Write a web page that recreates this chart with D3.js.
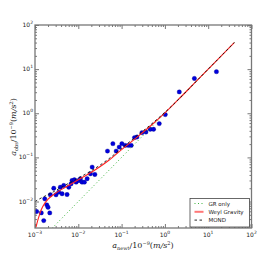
<!DOCTYPE html>
<html>
<head>
<meta charset="utf-8">
<script src="https://cdn.jsdelivr.net/npm/d3@7"></script>
<style>
body { margin: 0; background: #fff; }
svg { display: block; }
text { font-family: "DejaVu Sans", sans-serif; fill: #222; }
.lab { font-family: "DejaVu Serif", serif; }
</style>
</head>
<body>
<script>
// observed points (a_newt, a_obs) in 1e-9 m/s^2
const obsX = [0.00109, 0.00140, 0.00159, 0.00168, 0.00187, 0.00200, 0.00219, 0.00226, 0.00271, 0.00306,
  0.00354, 0.00385, 0.00422, 0.00461, 0.00550, 0.00602, 0.00681, 0.00718, 0.00812, 0.00889,
  0.0103, 0.0112, 0.0122, 0.0138, 0.0160, 0.0191, 0.0209, 0.0241, 0.0472, 0.0629,
  0.0750, 0.0880, 0.1016, 0.121, 0.144, 0.167, 0.199, 0.226, 0.295, 0.365,
  0.459, 0.547, 0.741, 1.02, 2.15, 4.80, 15.5];
const obsY = [0.00593, 0.00553, 0.00370, 0.0115, 0.0084, 0.0074, 0.00553, 0.0142, 0.0200, 0.0142,
  0.0163, 0.0211, 0.0150, 0.0231, 0.0144, 0.0211, 0.0252, 0.0300, 0.0311, 0.0275,
  0.0300, 0.0328, 0.0275, 0.0275, 0.0328, 0.0427, 0.0603, 0.0411, 0.139, 0.205,
  0.139, 0.171, 0.205, 0.187, 0.187, 0.187, 0.281, 0.289, 0.364, 0.376,
  0.433, 0.433, 0.583, 0.933, 3.05, 6.15, 8.77];

// model curves
const grX = [0.001, 40];
const grY = [0.001, 40];
const weylX = [0.00105, 0.0012, 0.0014, 0.0017, 0.002, 0.003, 0.005, 0.01, 0.02, 0.05, 0.1, 0.2, 0.5, 1, 2, 5, 10, 40];
const weylY = [0.0026, 0.0042, 0.0066, 0.0093, 0.0113, 0.0155, 0.021, 0.031, 0.046, 0.085, 0.15, 0.26, 0.55, 1.02, 2.0, 5.0, 10, 40];
const mondX = [0.001, 0.0015, 0.002, 0.005, 0.01, 0.02, 0.05, 0.1, 0.2, 0.5, 1, 10, 40];
const mondY = [0.0100, 0.0125, 0.0143, 0.0235, 0.034, 0.050, 0.092, 0.16, 0.28, 0.58, 1.05, 10, 40];

const xExps = [-3, -2, -1, 0, 1, 2];
const yExps = [-2, -1, 0, 1, 2];
const legendNames = ["GR only", "Weyl Gravity", "MOND"];

const W = 280, H = 255;
const L = 35, R = 251.5, T = 25, B = 228;

const svg = d3.select("body").append("svg").attr("width", W).attr("height", H);

const x = d3.scaleLog().domain([1e-3, 1e2]).range([L, R]);
const y = d3.scaleLog().domain([Math.pow(10, -2.6), 1e2]).range([B, T]);

svg.append("clipPath").attr("id", "clip")
  .append("rect").attr("x", L).attr("y", T).attr("width", R - L).attr("height", B - T);

// minor tick values
function minors(lo, hi) {
  const out = [];
  for (let e = lo; e < hi; e++) for (let k = 2; k <= 9; k++) out.push(k * Math.pow(10, e));
  return out;
}
const xMinor = minors(-3, 2);
const yMinor = minors(-3, 2).filter(v => v >= y.domain()[0]);
const xMajor = xExps.map(e => Math.pow(10, e));
const yMajor = yExps.map(e => Math.pow(10, e));

function axisGroup(axis) {
  const g = svg.append("g").call(axis);
  g.select(".domain").remove();
  g.selectAll("line").attr("stroke", "#555").attr("stroke-width", 0.8);
  g.selectAll("text").remove();
  return g;
}
axisGroup(d3.axisBottom(x).tickValues(xMajor).tickSize(-4)).attr("transform", `translate(0,${B})`);
axisGroup(d3.axisBottom(x).tickValues(xMinor).tickSize(-2)).attr("transform", `translate(0,${B})`);
axisGroup(d3.axisTop(x).tickValues(xMajor).tickSize(-4)).attr("transform", `translate(0,${T})`);
axisGroup(d3.axisTop(x).tickValues(xMinor).tickSize(-2)).attr("transform", `translate(0,${T})`);
axisGroup(d3.axisLeft(y).tickValues(yMajor).tickSize(-4)).attr("transform", `translate(${L},0)`);
axisGroup(d3.axisLeft(y).tickValues(yMinor).tickSize(-2)).attr("transform", `translate(${L},0)`);
axisGroup(d3.axisRight(y).tickValues(yMajor).tickSize(-4)).attr("transform", `translate(${R},0)`);
axisGroup(d3.axisRight(y).tickValues(yMinor).tickSize(-2)).attr("transform", `translate(${R},0)`);

// tick labels 10^n
function powLabel(sel, e) {
  sel.append("tspan").text("10");
  sel.append("tspan").attr("dy", -3).style("font-size", "4.5px").text(e < 0 ? "\u2212" + (-e) : e);
}
xExps.forEach(e => {
  const t = svg.append("text").attr("x", x(Math.pow(10, e))).attr("y", 237)
    .attr("text-anchor", "middle").style("font-size", "6px");
  powLabel(t, e);
});
yExps.forEach(e => {
  const t = svg.append("text").attr("x", L - 2).attr("y", y(Math.pow(10, e)) + 2)
    .attr("text-anchor", "end").style("font-size", "6px");
  powLabel(t, e);
});

// data points
const pts = obsX.map((v, i) => [v, obsY[i]]);
svg.append("g").attr("clip-path", "url(#clip)")
  .selectAll("circle").data(pts).enter().append("circle")
  .attr("cx", d => x(d[0])).attr("cy", d => y(d[1])).attr("r", 2.2)
  .attr("fill", "#0000dd").attr("stroke", "#000080").attr("stroke-width", 0.3);

const line = d3.line().x(d => x(d[0])).y(d => y(d[1])).curve(d3.curveMonotoneX);
const plot = svg.append("g").attr("clip-path", "url(#clip)");
plot.append("path").datum(grX.map((v, i) => [v, grY[i]])).attr("d", line)
  .attr("fill", "none").attr("stroke", "#2a2").attr("stroke-width", 0.9).attr("stroke-dasharray", "1,2.5");
plot.append("path").datum(weylX.map((v, i) => [v, weylY[i]])).attr("d", line)
  .attr("fill", "none").attr("stroke", "#f22").attr("stroke-width", 1.1);
plot.append("path").datum(mondX.map((v, i) => [v, mondY[i]])).attr("d", line)
  .attr("fill", "none").attr("stroke", "#111").attr("stroke-width", 0.9).attr("stroke-dasharray", "2.5,2.5");

// frame
svg.append("rect").attr("x", L).attr("y", T).attr("width", R - L).attr("height", B - T)
  .attr("fill", "none").attr("stroke", "#777").attr("stroke-width", 1.3);

// legend
const lg = svg.append("g");
lg.append("rect").attr("x", 190).attr("y", 198.5).attr("width", 59.5).attr("height", 28.5)
  .attr("fill", "#fff").attr("stroke", "#444").attr("stroke-width", 0.8);
const lstyles = [
  { c: "#2a2", w: 0.9, dash: "1,2.5" },
  { c: "#f77", w: 2, dash: null },
  { c: "#111", w: 0.9, dash: "2.5,2.5" }
];
legendNames.forEach((name, i) => {
  const yy = 203.5 + i * 8.3;
  lg.append("line").attr("x1", 194.5).attr("x2", 203.5).attr("y1", yy).attr("y2", yy)
    .attr("stroke", lstyles[i].c).attr("stroke-width", lstyles[i].w)
    .attr("stroke-dasharray", lstyles[i].dash);
  lg.append("text").attr("x", 208.5).attr("y", yy + 2).style("font-size", "5.5px").text(name);
});

// axis labels
const xl = svg.append("text").attr("class", "lab").attr("x", 143).attr("y", 248)
  .attr("text-anchor", "middle").style("font-size", "8px");
xl.append("tspan").style("font-style", "italic").text("a");
xl.append("tspan").attr("dy", 1.5).style("font-size", "5px").text("newt");
xl.append("tspan").attr("dy", -1.5).text("/10");
xl.append("tspan").attr("dy", -3).style("font-size", "5px").text("\u22129");
xl.append("tspan").attr("dy", 3).text("(");
xl.append("tspan").style("font-style", "italic").text("m/s");
xl.append("tspan").attr("dy", -3).style("font-size", "5px").text("2");
xl.append("tspan").attr("dy", 3).text(")");

const yl = svg.append("text").attr("class", "lab")
  .attr("transform", "translate(16,127) rotate(-90)")
  .attr("text-anchor", "middle").style("font-size", "8px");
yl.append("tspan").style("font-style", "italic").text("a");
yl.append("tspan").attr("dy", 1.5).style("font-size", "5px").text("obs");
yl.append("tspan").attr("dy", -1.5).text("/10");
yl.append("tspan").attr("dy", -3).style("font-size", "5px").text("\u22129");
yl.append("tspan").attr("dy", 3).text("(");
yl.append("tspan").style("font-style", "italic").text("m/s");
yl.append("tspan").attr("dy", -3).style("font-size", "5px").text("2");
yl.append("tspan").attr("dy", 3).text(")");
</script>
</body>
</html>
